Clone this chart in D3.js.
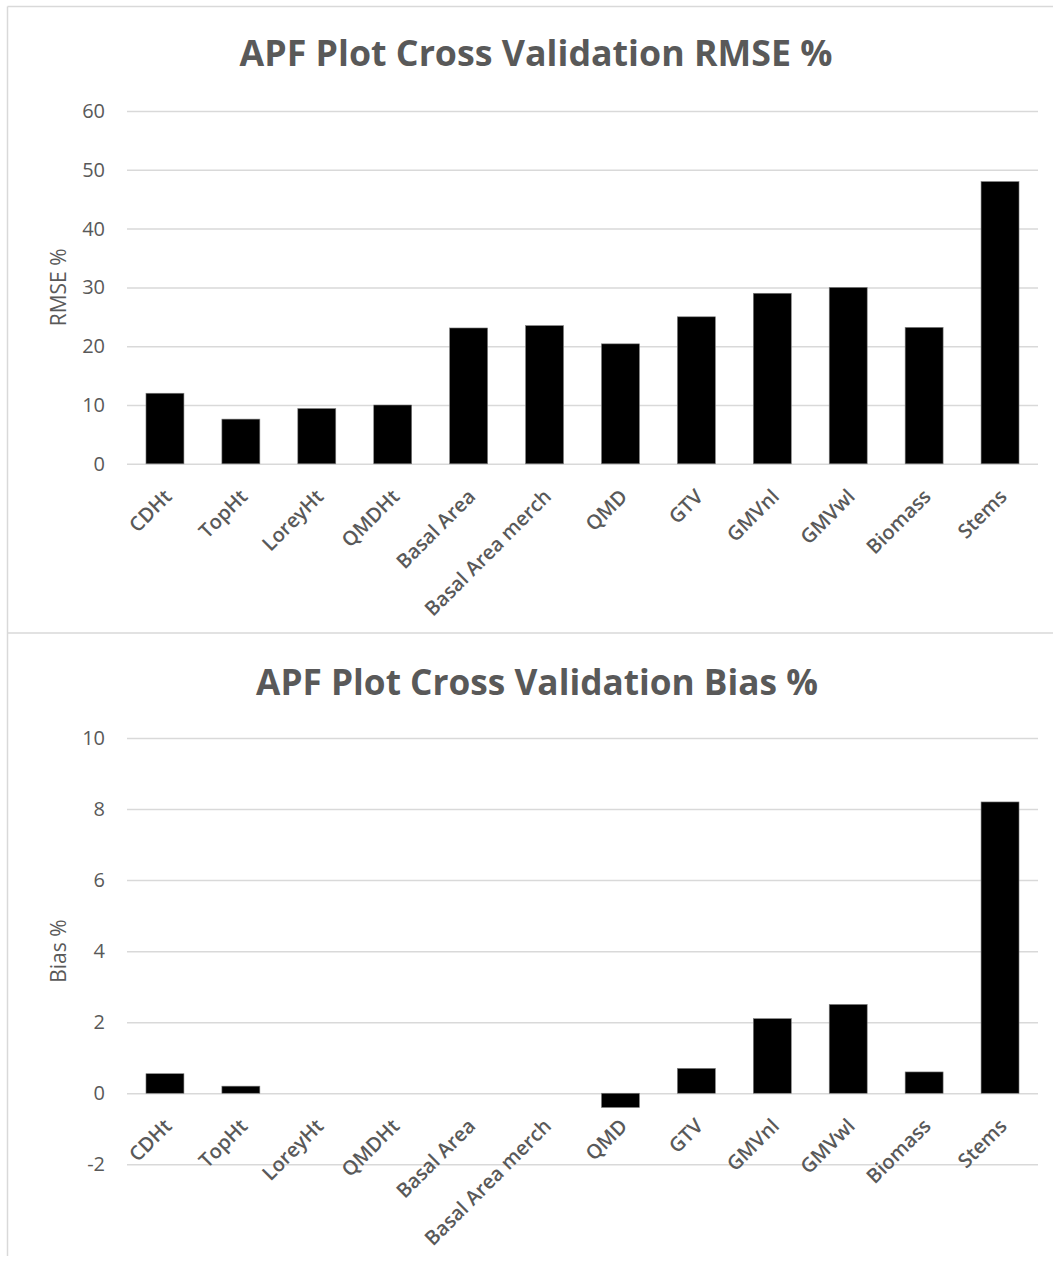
<!DOCTYPE html>
<html>
<head>
<meta charset="utf-8">
<script src="https://cdn.jsdelivr.net/npm/d3@7"></script>
<style>
  html, body { margin: 0; padding: 0; background: #fff; }
  svg { display: block; }
</style>
</head>
<body>
<svg id="chart" width="1053" height="1261"></svg>
<script>
// Categories shared by both panels
const categories = ["CDHt", "TopHt", "LoreyHt", "QMDHt", "Basal Area", "Basal Area merch",
                    "QMD", "GTV", "GMVnl", "GMVwl", "Biomass", "Stems"];

// Cross-validation RMSE (%)
const rmseValues = [12.0, 7.6, 9.4, 10.0, 23.1, 23.5, 20.4, 25.0, 29.0, 30.0, 23.2, 48.0];
const rmseTicks = [0, 10, 20, 30, 40, 50, 60];

// Cross-validation bias (%)
const biasValues = [0.55, 0.2, 0, 0, 0, 0, -0.4, 0.7, 2.1, 2.5, 0.6, 8.2];
const biasTicks = [-2, 0, 2, 4, 6, 8, 10];

const svg = d3.select("#chart");
const textColor = "#595959";
const gridColor = "#d9d9d9";
const font = "'Open Sans', 'Noto Sans', sans-serif";

// Panel frames (left edge, top edge, and the divider between the panels)
const frame = svg.append("g").attr("stroke", gridColor).attr("stroke-width", 1.5).attr("fill", "none");
frame.append("line").attr("x1", 7.5).attr("x2", 7.5).attr("y1", 6.5).attr("y2", 1256);
frame.append("line").attr("x1", 7.5).attr("x2", 1053).attr("y1", 6.5).attr("y2", 6.5);
frame.append("line").attr("x1", 7.5).attr("x2", 1053).attr("y1", 633).attr("y2", 633);

function drawPanel(opts) {
  const g = svg.append("g");
  const x = d3.scaleBand().domain(categories).range([127, 1038])
    .paddingInner(0.5).paddingOuter(0.25);
  const y = d3.scaleLinear().domain(opts.domain).range([opts.yBottom, opts.yTop]);

  // Title, sized to its measured width
  const title = g.append("text")
    .attr("x", opts.titleX).attr("y", opts.titleY)
    .attr("text-anchor", "middle")
    .attr("font-family", font).attr("font-weight", 700)
    .attr("font-size", 32).attr("fill", textColor)
    .text(opts.title);
  const w = title.node().getComputedTextLength();
  title.attr("font-size", 32 * opts.titleWidth / w);

  // Horizontal gridlines and value ticks
  const yAxis = d3.axisLeft(y).tickValues(opts.ticks).tickSize(-(1038 - 127)).tickPadding(22)
    .tickFormat(d => String(d));
  const ya = g.append("g").attr("transform", "translate(127,0)").call(yAxis);
  ya.select(".domain").remove();
  ya.selectAll(".tick line").attr("stroke", gridColor).attr("stroke-width", 1.5);
  ya.selectAll(".tick text").attr("font-family", font).attr("font-size", 20)
    .attr("fill", textColor);

  // Axis title
  g.append("text")
    .attr("transform", `translate(${opts.axisTitleX},${(opts.yTop + opts.yBottom) / 2}) rotate(-90)`)
    .attr("text-anchor", "middle").attr("dy", "0.35em")
    .attr("font-family", font).attr("font-size", 21).attr("fill", textColor)
    .text(opts.axisTitle);

  // Bars
  g.append("g").selectAll("rect").data(opts.values).join("rect")
    .attr("x", (d, i) => x(categories[i]))
    .attr("width", x.bandwidth())
    .attr("y", d => y(Math.max(0, d)))
    .attr("height", d => Math.abs(y(d) - y(0)))
    .attr("fill", "#000")
    .attr("stroke", "#7f7f7f").attr("stroke-width", 0.6);

  // Category labels, rotated
  const y0 = y(0);
  g.append("g").selectAll("text").data(categories).join("text")
    .attr("transform", d => `translate(${x(d) + x.bandwidth() / 2 - 2},${y0 + 24}) rotate(-45)`)
    .attr("text-anchor", "end").attr("dy", "0.71em")
    .attr("font-family", font).attr("font-weight", 600).attr("font-size", 20)
    .attr("fill", textColor)
    .text(d => d);
}

drawPanel({
  title: "APF Plot Cross Validation RMSE %",
  titleX: 536, titleY: 66, titleWidth: 593,
  domain: [0, 60], yBottom: 463.8, yTop: 111,
  ticks: rmseTicks, values: rmseValues,
  axisTitle: "RMSE %", axisTitleX: 59
});

drawPanel({
  title: "APF Plot Cross Validation Bias %",
  titleX: 537, titleY: 695, titleWidth: 562,
  domain: [-2, 10], yBottom: 1164.3, yTop: 738,
  ticks: biasTicks, values: biasValues,
  axisTitle: "Bias %", axisTitleX: 59
});
</script>
</body>
</html>
